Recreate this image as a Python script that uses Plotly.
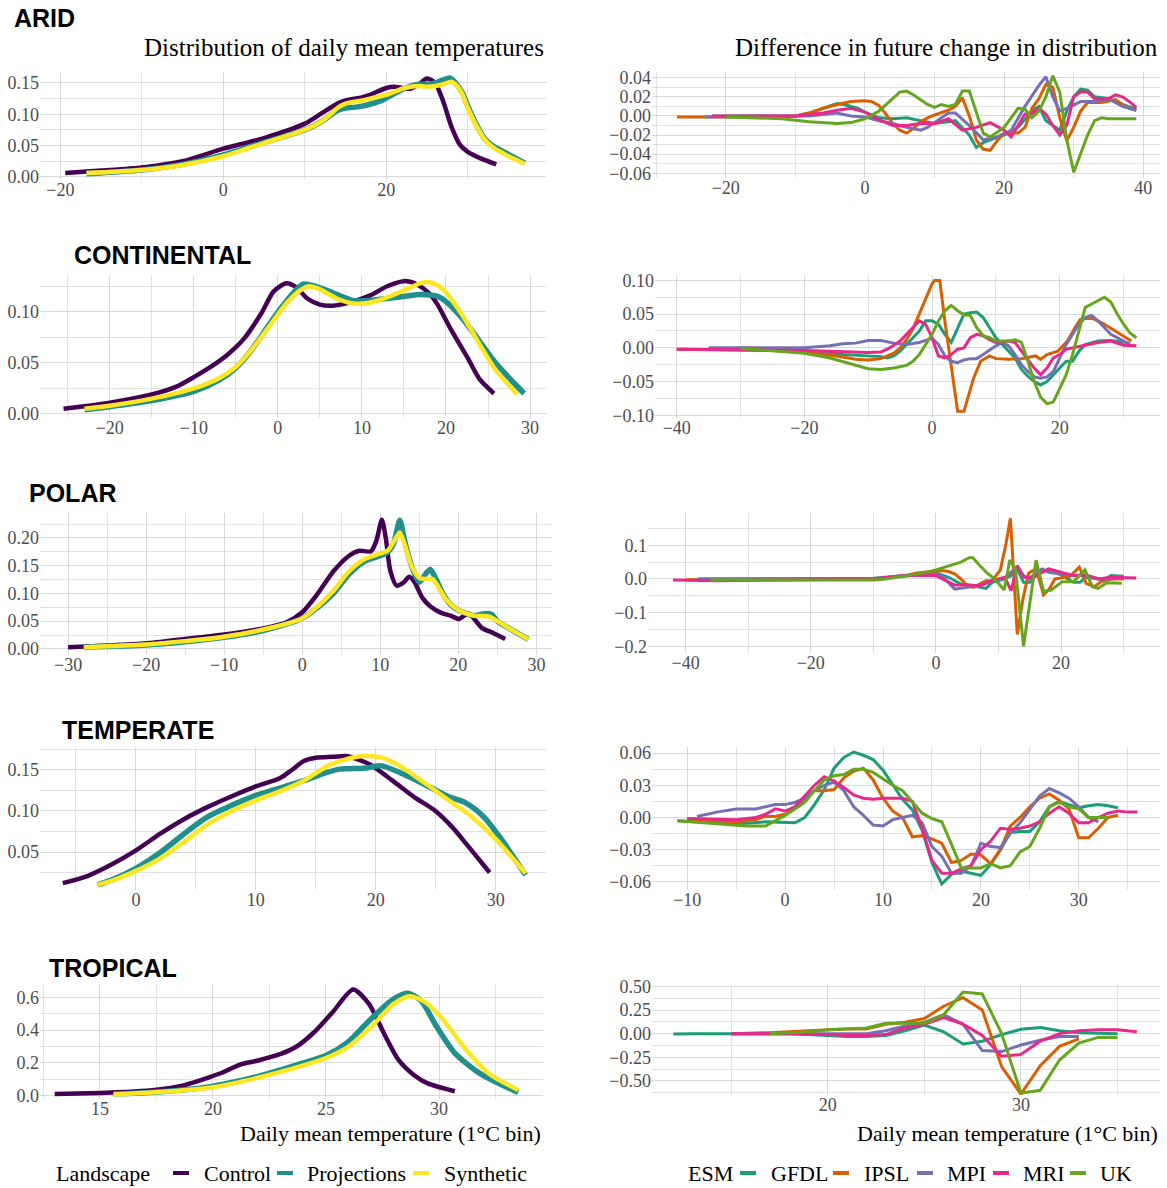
import plotly.graph_objects as go

W, H = 1167, 1188

REGIONS = ["ARID", "CONTINENTAL", "POLAR", "TEMPERATE", "TROPICAL"]
LANDSCAPES = ["Control", "Projections", "Synthetic"]
LANDSCAPE_COLORS = ["#440154", "#21908C", "#FDE725"]
ESMS = ["GFDL", "IPSL", "MPI", "MRI", "UK"]
ESM_COLORS = ["#1B9E77", "#D95F02", "#7570B3", "#E7298A", "#66A61E"]

# ---- density of daily mean temperature, (temperature, density) ----
ARID_CONTROL = [(-19.4, 0.006), (-15, 0.01), (-10, 0.015), (-5, 0.025), (0, 0.045), (5, 0.062), (10, 0.085),
                (12, 0.101), (14, 0.117), (15, 0.122), (17, 0.127), (18, 0.131), (20, 0.142), (21, 0.144),
                (22, 0.142), (23, 0.141), (24, 0.148), (25, 0.157), (26, 0.15), (27, 0.12), (28, 0.08),
                (29, 0.052), (30, 0.04), (31.5, 0.03), (33.5, 0.02)]
ARID_PROJECTIONS = [(-16.8, 0.005), (-10, 0.011), (-5, 0.02), (0, 0.035), (5, 0.055), (10, 0.075), (12, 0.088),
                    (13, 0.097), (14, 0.106), (15, 0.11), (16, 0.111), (17, 0.113), (18, 0.116), (19, 0.12),
                    (20, 0.126), (21, 0.133), (22, 0.14), (23, 0.145), (24, 0.148), (25, 0.148), (26, 0.15),
                    (27, 0.155), (27.8, 0.158), (28.5, 0.15), (29.3, 0.135), (30, 0.113), (31, 0.085),
                    (32, 0.062), (33, 0.05), (35, 0.036), (37, 0.022)]
ARID_SYNTHETIC = [(-16.8, 0.006), (-10, 0.011), (-5, 0.019), (0, 0.033), (5, 0.054), (10, 0.075), (12, 0.088),
                  (13, 0.098), (14, 0.11), (15, 0.117), (16, 0.12), (17, 0.122), (18, 0.125), (19, 0.128),
                  (20, 0.131), (21, 0.136), (22, 0.141), (23, 0.144), (24, 0.145), (25, 0.144), (26, 0.145),
                  (27, 0.148), (28, 0.152), (28.7, 0.145), (29.3, 0.133), (30, 0.11), (31, 0.083), (32, 0.061),
                  (33, 0.048), (35, 0.033), (37, 0.021)]

CONT_CONTROL = [(-25.5, 0.005), (-20, 0.011), (-15, 0.019), (-12, 0.027), (-10, 0.036), (-8, 0.046), (-6, 0.058),
                (-4, 0.074), (-2, 0.098), (-0.5, 0.12), (1, 0.128), (2.2, 0.124), (3.5, 0.113), (5, 0.107),
                (6.5, 0.106), (8.5, 0.109), (11, 0.116), (13, 0.125), (15, 0.13), (16.5, 0.127), (18, 0.118),
                (19, 0.107), (20.5, 0.084), (22.5, 0.056), (24, 0.034), (25.7, 0.02)]
CONT_PROJECTIONS = [(-23, 0.004), (-20, 0.007), (-15, 0.013), (-10, 0.022), (-7, 0.033), (-5, 0.045), (-3, 0.064),
                    (-1, 0.088), (0.5, 0.105), (2, 0.12), (3, 0.127), (4, 0.126), (5.5, 0.122), (7, 0.117),
                    (9, 0.111), (11, 0.111), (13, 0.113), (15, 0.115), (17, 0.117), (19, 0.115), (20, 0.11),
                    (22, 0.093), (24, 0.071), (26, 0.049), (28, 0.031), (29.3, 0.02)]
CONT_SYNTHETIC = [(-23, 0.005), (-20, 0.008), (-15, 0.015), (-10, 0.025), (-7, 0.035), (-5, 0.046), (-3, 0.064),
                  (-1, 0.086), (1, 0.108), (2.5, 0.12), (3.7, 0.125), (5, 0.122), (7, 0.113), (9, 0.108),
                  (11, 0.109), (13, 0.114), (15, 0.121), (17, 0.128), (18, 0.129), (19, 0.126), (20, 0.119),
                  (22, 0.096), (24, 0.068), (26, 0.042), (28.5, 0.019)]

POLAR_CONTROL = [(-30, 0.003), (-25, 0.006), (-20, 0.01), (-15, 0.018), (-10, 0.026), (-5, 0.037), (-2, 0.048),
                 (0, 0.066), (2, 0.1), (4, 0.14), (6, 0.168), (7.3, 0.177), (8.8, 0.176), (9.5, 0.195),
                 (10.2, 0.233), (10.7, 0.2), (11.3, 0.14), (12.1, 0.114), (13, 0.12), (13.7, 0.13), (14.4, 0.12),
                 (15.4, 0.092), (16.4, 0.077), (17.8, 0.065), (19, 0.06), (20.1, 0.054), (21.3, 0.064),
                 (23, 0.038), (24.4, 0.029), (26, 0.018)]
POLAR_PROJECTIONS = [(-28, 0.003), (-20, 0.007), (-15, 0.013), (-10, 0.021), (-5, 0.033), (0, 0.055), (2, 0.075),
                     (4, 0.1), (6, 0.135), (8, 0.158), (10, 0.168), (11, 0.175), (11.7, 0.19), (12.5, 0.232),
                     (13.2, 0.19), (14, 0.15), (15, 0.12), (15.8, 0.135), (16.4, 0.143), (17, 0.13), (18, 0.1),
                     (19, 0.08), (20, 0.07), (22, 0.06), (23.5, 0.064), (24.3, 0.062), (25, 0.05), (27, 0.033),
                     (29, 0.017)]
POLAR_SYNTHETIC = [(-28, 0.003), (-20, 0.008), (-15, 0.014), (-10, 0.022), (-5, 0.035), (0, 0.055), (2, 0.077),
                   (4, 0.105), (6, 0.14), (8, 0.162), (10, 0.172), (11, 0.178), (12, 0.2), (12.5, 0.21),
                   (13.2, 0.185), (14, 0.15), (15, 0.128), (16, 0.126), (16.7, 0.126), (17.5, 0.11),
                   (18.5, 0.088), (20, 0.07), (22, 0.06), (24, 0.058), (25, 0.05), (27, 0.033), (29, 0.017)]

TEMP_CONTROL = [(-6.1, 0.012), (-4, 0.021), (-2, 0.035), (0, 0.052), (2, 0.072), (4, 0.09), (6, 0.105),
                (8, 0.118), (10, 0.13), (12, 0.14), (13, 0.15), (14, 0.161), (15, 0.165), (16.5, 0.166),
                (17.5, 0.167), (18.5, 0.163), (19.6, 0.156), (21.4, 0.137), (23.3, 0.116), (24.8, 0.102),
                (26.4, 0.08), (27.6, 0.059), (29.5, 0.025)]
TEMP_PROJECTIONS = [(-3.2, 0.01), (-2, 0.016), (0, 0.03), (2, 0.049), (4, 0.072), (6, 0.093), (8, 0.107),
                    (10, 0.119), (12, 0.128), (14, 0.137), (15.5, 0.145), (17, 0.151), (19, 0.152),
                    (20.5, 0.155), (22, 0.147), (24, 0.133), (26, 0.118), (27.5, 0.11), (29, 0.093),
                    (30.5, 0.065), (32.5, 0.022)]
TEMP_SYNTHETIC = [(-3.2, 0.01), (-2, 0.015), (0, 0.027), (2, 0.042), (4, 0.062), (6, 0.084), (8, 0.1),
                  (10, 0.113), (12, 0.124), (14, 0.137), (16, 0.155), (17.5, 0.163), (19, 0.167), (20.5, 0.165),
                  (22, 0.155), (24, 0.135), (26, 0.114), (28, 0.093), (30, 0.066), (32.5, 0.024)]

TROP_CONTROL = [(13, 0.01), (15, 0.017), (16.5, 0.025), (17.5, 0.036), (18.7, 0.063), (20.4, 0.14), (21.2, 0.19),
                (22, 0.215), (23, 0.255), (23.7, 0.3), (24.5, 0.39), (25.3, 0.51), (26.2, 0.648), (26.9, 0.56),
                (27.6, 0.37), (28.2, 0.22), (28.9, 0.125), (29.5, 0.075), (30.7, 0.027)]
TROP_PROJECTIONS = [(15.6, 0.01), (17, 0.018), (18, 0.027), (19, 0.04), (20, 0.058), (21, 0.085), (22, 0.118),
                    (23, 0.158), (24, 0.2), (25, 0.245), (26, 0.33), (27, 0.47), (28, 0.59), (28.6, 0.625),
                    (29.2, 0.58), (29.9, 0.42), (30.7, 0.26), (31.8, 0.136), (33.5, 0.02)]
TROP_SYNTHETIC = [(15.6, 0.008), (18, 0.026), (20, 0.052), (22, 0.11), (24, 0.185), (25, 0.23), (26, 0.3),
                  (27, 0.42), (28, 0.56), (28.7, 0.607), (29.4, 0.57), (30.2, 0.46), (31.2, 0.28),
                  (32.2, 0.136), (33.5, 0.035)]

# ---- difference in future change in distribution per ESM, (temperature bin, difference) ----
ARID_GFDL = [(-22, 0), (-10, 0), (-8, 0.003), (-6, 0.008), (-4, 0.013), (-3, 0.012), (-1, 0.008), (0, 0.004),
             (2, -0.002), (4, -0.003), (6, -0.002), (8, -0.005), (10, -0.008), (12, -0.006), (13, -0.005),
             (15, -0.02), (16, -0.033), (17, -0.028), (18, -0.025), (20, -0.02), (22, -0.012), (24, 0.005),
             (25, 0.01), (26, -0.005), (27, -0.01), (28, -0.015), (29, 0.005), (30, 0.02), (31, 0.028),
             (32, 0.027), (33, 0.02), (35, 0.018), (37, 0.012), (39, 0.007)]
ARID_IPSL = [(-27, -0.001), (-20, -0.001), (-10, 0), (-8, 0.003), (-6, 0.008), (-4, 0.012), (-2, 0.015),
             (0, 0.016), (1, 0.015), (2, 0.011), (3, 0.002), (4, -0.008), (5, -0.015), (6, -0.018), (7, -0.013),
             (8, -0.006), (9, -0.002), (10, 0.001), (12, 0.006), (13, 0.01), (14, 0.019), (15, 0.0),
             (16, -0.025), (17, -0.035), (18, -0.036), (19, -0.026), (20, -0.018), (22, -0.018), (23, -0.012),
             (24, 0.008), (25, 0.018), (26, 0.033), (27, 0.03), (28, -0.002), (29, -0.026), (30, -0.012),
             (31, 0.005), (32, 0.014), (34, 0.014), (36, 0.017), (37, 0.012), (38, 0.008), (39, 0.006)]
ARID_MPI = [(-23, -0.001), (-8, 0), (-4, 0.003), (-2, 0), (0, -0.001), (2, -0.005), (4, -0.008), (6, -0.012),
            (8, -0.015), (9, -0.012), (11, -0.002), (12, 0.003), (13, 0.003), (15, -0.01), (17, -0.025),
            (19, -0.022), (21, -0.015), (23, 0.01), (25, 0.032), (26, 0.041), (27, 0.02), (28, 0.005),
            (29, 0.008), (31, 0.015), (33, 0.015), (35, 0.018), (37, 0.01), (39, 0.006)]
ARID_MRI = [(-22, 0), (-10, 0), (-6, 0.003), (-4, 0.006), (-2, 0.008), (0, 0.004), (2, -0.004), (4, -0.01),
            (6, -0.01), (8, -0.008), (10, -0.008), (12, -0.003), (14, -0.015), (16, -0.012), (18, -0.007),
            (20, -0.015), (21, -0.022), (22, -0.01), (23, 0.002), (24, 0.002), (25, 0.008), (26, 0.002),
            (27, -0.01), (28, -0.02), (29, -0.01), (30, 0.02), (31, 0.025), (32, 0.025), (33, 0.018),
            (35, 0.018), (36, 0.022), (37, 0.02), (38, 0.015), (39, 0.009)]
ARID_UK = [(-20, -0.001), (-12, -0.003), (-8, -0.006), (-4, -0.008), (-2, -0.007), (0, -0.003), (2, 0.005),
           (4, 0.018), (5, 0.025), (6, 0.026), (7, 0.022), (9, 0.012), (10, 0.009), (11, 0.012), (12, 0.01),
           (13, 0.012), (14, 0.026), (15, 0.026), (17, -0.018), (18, -0.022), (20, -0.012), (22, 0.008),
           (23, 0.007), (24, -0.002), (25, 0.005), (26, 0.02), (27, 0.042), (28, 0.025), (29, -0.025),
           (30, -0.059), (31, -0.04), (32, -0.02), (33, -0.005), (34, -0.002), (35, -0.003), (37, -0.003),
           (39, -0.003)]

CONT_GFDL = [(-30, 0), (-20, -0.005), (-14, -0.01), (-10, -0.012), (-8, -0.013), (-7, -0.015), (-6, -0.012),
             (-5, -0.005), (-4, 0.005), (-3, 0.015), (-2, 0.025), (-1, 0.04), (0, 0.04), (1, 0.035), (2, 0.02),
             (3, 0.008), (4, 0.03), (5, 0.05), (6, 0.052), (7, 0.053), (8, 0.045), (9, 0.03), (10, 0.015),
             (11, 0.005), (12, -0.005), (13, -0.015), (14, -0.032), (15, -0.042), (16, -0.05), (17, -0.055),
             (18, -0.05), (19, -0.04), (20, -0.03), (21, -0.02), (22, -0.02), (23, -0.005), (24, 0.005),
             (25, 0.008), (26, 0.01), (28, 0.011), (30, 0.009), (31, 0.007)]
CONT_IPSL = [(-40, -0.002), (-25, -0.004), (-20, -0.006), (-15, -0.012), (-12, -0.017), (-10, -0.018),
             (-8, -0.016), (-6, -0.008), (-5, 0.0), (-4, 0.012), (-3, 0.028), (-2, 0.05), (-1, 0.072),
             (0, 0.095), (0.4, 0.1), (1.2, 0.1), (2, 0.04), (3, -0.03), (4, -0.094), (5, -0.094), (6.5, -0.045),
             (7.6, -0.02), (9, -0.012), (10, -0.016), (12, -0.017), (14, -0.016), (15.3, -0.013), (16.2, -0.012),
             (17, -0.017), (18, -0.01), (19.7, -0.005), (21.2, 0.01), (22.4, 0.03), (23.2, 0.042), (24.1, 0.044),
             (25.3, 0.043), (27, 0.035), (29.4, 0.02), (31.2, 0.01)]
CONT_MPI = [(-35, 0), (-20, 0), (-16, 0.003), (-14, 0.006), (-12, 0.007), (-10, 0.011), (-8, 0.011), (-6, 0.007),
            (-4, 0.005), (-2, 0.008), (0, 0.014), (1, 0.005), (2, -0.012), (3, -0.02), (4, -0.022), (5, -0.018),
            (6, -0.016), (7, -0.016), (8, -0.01), (9, -0.003), (10, 0.003), (11, 0.008), (12, 0.003),
            (13, -0.01), (14, -0.025), (15, -0.035), (16, -0.043), (17, -0.045), (18, -0.043), (19, -0.035),
            (20, -0.015), (21, 0.005), (22, 0.02), (23, 0.035), (24, 0.045), (25, 0.048), (26, 0.04),
            (27, 0.03), (28, 0.02), (30, 0.01), (31, 0.005)]
CONT_MRI = [(-40, -0.002), (-20, -0.004), (-10, -0.007), (-8, -0.006), (-7, -0.002), (-5, 0.01), (-4, 0.02),
            (-3, 0.03), (-2, 0.04), (-1, 0.035), (0, 0.015), (1, -0.012), (2, -0.015), (3, -0.01), (4, -0.002),
            (5, 0.0), (6, 0.015), (7, 0.02), (8, 0.018), (9, 0.012), (10, 0.008), (12, 0.01), (13, 0.008),
            (14, -0.005), (15, -0.018), (16, -0.03), (17, -0.04), (18, -0.03), (19, -0.015), (20, -0.01),
            (21, -0.002), (22, 0.0), (24, 0.003), (26, 0.008), (28, 0.01), (30, 0.004), (32, 0.003)]
CONT_UK = [(-30, -0.001), (-25, -0.004), (-20, -0.008), (-16, -0.015), (-14, -0.02), (-12, -0.026),
           (-10, -0.031), (-8, -0.032), (-6, -0.03), (-4, -0.026), (-3, -0.02), (-2, -0.01), (-1, 0.005),
           (0, 0.02), (1, 0.04), (2, 0.055), (3, 0.063), (4, 0.055), (5, 0.049), (6, 0.048), (7, 0.03),
           (8, 0.018), (9, 0.015), (10, 0.01), (11, 0.01), (12, 0.01), (13, 0.012), (14, 0.008), (15, -0.02),
           (16, -0.05), (17, -0.073), (18, -0.083), (19, -0.08), (20, -0.06), (21, -0.04), (22, -0.01),
           (23, 0.025), (24, 0.06), (25, 0.065), (26, 0.07), (27, 0.075), (28, 0.068), (29, 0.05), (30, 0.035),
           (31, 0.022), (32, 0.015)]

POLAR_GFDL = [(-38, 0), (-10, 0), (-5, 0.008), (-2, 0.015), (0, 0.018), (2, 0.005), (4, -0.015), (6, -0.02),
              (8, -0.028), (9, -0.01), (11, 0.0), (12, 0.01), (13, 0.03), (14, -0.01), (15, -0.01), (16, 0.01),
              (17, 0.025), (18, 0.025), (20, 0.012), (22, -0.01), (23, -0.01), (24, 0.005), (26, 0.0), (27, 0.0),
              (28, 0.01), (30, 0.008)]
POLAR_IPSL = [(-40, -0.002), (-10, 0), (-8, 0.003), (-5, 0.01), (-3, 0.018), (-1, 0.022), (0, 0.025), (1, 0.025),
              (2, 0.022), (3, 0.015), (4, 0.0), (5, -0.02), (6, -0.025), (7, -0.015), (8, -0.005), (9, -0.005),
              (10.3, 0.027), (11.2, 0.105), (11.9, 0.18), (13, -0.165), (13.9, -0.06), (14.8, 0.017),
              (16, 0.03), (17.2, -0.047), (18.1, -0.03), (19, 0.0), (21.4, 0.007), (22.9, 0.035),
              (24, -0.013), (25.3, -0.023), (26.4, -0.008), (28, 0.0), (30, 0.0)]
POLAR_MPI = [(-38, 0), (-10, 0.002), (-5, 0.01), (0, 0.015), (1, 0.008), (3, -0.03), (5, -0.025), (7, -0.02),
             (9, -0.005), (11, 0.002), (12, 0.02), (13, 0.035), (14, 0.01), (15, 0.0), (16, 0.02), (17, 0.03),
             (18, 0.02), (20, 0.015), (22, 0.01), (24, 0.01), (26, 0.0), (28, 0.0), (30, 0.003)]
POLAR_MRI = [(-42, -0.003), (-35, -0.005), (-10, 0.0), (-5, 0.01), (0, 0.01), (2, -0.01), (3, -0.018),
             (5, -0.018), (7, -0.02), (9, -0.005), (11, 0.005), (12, -0.035), (13, 0.04), (14, 0.005),
             (15, 0.005), (16, 0.01), (18, 0.03), (20, 0.02), (22, 0.01), (24, 0.012), (26, 0.0), (28, 0.005),
             (30, 0.005), (32, 0.003)]
POLAR_UK = [(-36, -0.003), (-10, -0.003), (-8, 0.0), (-5, 0.008), (-2, 0.018), (0, 0.027), (2, 0.038),
            (4, 0.05), (5.3, 0.063), (5.9, 0.063), (7, 0.04), (8.2, 0.017), (9.4, 0.0), (10.9, -0.033),
            (11.8, 0.056), (12.7, 0.03), (14, -0.2), (16, 0.056), (17.2, -0.037), (18.4, -0.033),
            (20.2, -0.008), (22, -0.008), (23.8, 0.027), (25, -0.023), (25.9, -0.028), (27.3, -0.011),
            (29.7, -0.013)]

TEMP_GFDL = [(-11, -0.003), (-5, -0.006), (-2, -0.004), (0, -0.005), (1, -0.005), (2, 0.0), (3, 0.012),
             (4, 0.026), (5, 0.046), (6, 0.056), (7, 0.061), (8, 0.058), (9, 0.054), (10, 0.044), (11, 0.031),
             (12, 0.017), (13, 0.007), (14, -0.012), (15, -0.042), (16, -0.062), (17, -0.053), (18, -0.05),
             (19, -0.052), (20, -0.054), (21, -0.044), (22, -0.03), (23, -0.014), (24, -0.013), (25, -0.013),
             (26, -0.004), (27, 0.01), (28, 0.015), (29, 0.012), (30, 0.009), (31, 0.011), (32, 0.012),
             (33, 0.011), (34, 0.009)]
TEMP_IPSL = [(-10, -0.002), (-5, -0.004), (-3, -0.002), (-2, 0.001), (-1, 0.001), (0, 0.003), (1, 0.008),
             (2, 0.018), (3, 0.025), (4, 0.025), (5, 0.026), (6, 0.037), (7, 0.043), (8, 0.046), (9, 0.035),
             (10, 0.018), (11, 0.006), (12, 0.0), (13, -0.018), (14, -0.017), (15, -0.02), (16, -0.024),
             (17, -0.042), (18, -0.04), (19, -0.034), (20, -0.035), (21, -0.043), (22, -0.03), (23, -0.008),
             (24, 0.0), (25, 0.01), (26, 0.018), (27, 0.022), (28, 0.016), (29, 0.008), (30, -0.019),
             (31, -0.019), (32, -0.01), (33, 0.0), (34, 0.002)]
TEMP_MPI = [(-9, 0.001), (-7, 0.005), (-5, 0.008), (-4, 0.008), (-3, 0.008), (-2, 0.01), (-1, 0.012), (0, 0.012),
            (1, 0.014), (2, 0.018), (3, 0.025), (4, 0.03), (5, 0.033), (6, 0.025), (7, 0.01), (8, 0.002),
            (9, -0.007), (10, -0.008), (11, -0.002), (12, 0.0), (13, 0.002), (14, -0.005), (15, -0.027),
            (16, -0.036), (17, -0.052), (18, -0.052), (19, -0.045), (20, -0.024), (21, -0.027), (22, -0.028),
            (23, -0.015), (24, -0.005), (25, 0.008), (26, 0.02), (27, 0.027), (28, 0.023), (29, 0.018),
            (30, 0.01), (31, 0.0), (32, -0.004)]
TEMP_MRI = [(-10, -0.001), (-5, -0.002), (-3, 0.0), (-2, 0.003), (-1, 0.008), (0, 0.006), (1, 0.01), (2, 0.02),
            (3, 0.03), (4, 0.038), (5, 0.034), (6, 0.028), (7, 0.021), (8, 0.018), (9, 0.017), (10, 0.018),
            (11, 0.018), (12, 0.018), (13, 0.015), (14, -0.01), (15, -0.04), (16, -0.052), (17, -0.052),
            (18, -0.048), (19, -0.045), (20, -0.03), (21, -0.022), (22, -0.01), (23, -0.011), (24, -0.01),
            (25, -0.008), (26, -0.004), (27, 0.004), (28, 0.01), (29, 0.004), (30, -0.005), (31, -0.005),
            (32, 0.0), (33, 0.004), (34, 0.006), (35, 0.005), (36, 0.005)]
TEMP_UK = [(-11, -0.003), (-5, -0.007), (-4, -0.008), (-2, -0.008), (-1, -0.003), (0, 0.002), (1, 0.008),
           (2, 0.014), (3, 0.025), (4, 0.035), (5, 0.039), (6, 0.04), (7, 0.045), (8, 0.045), (9, 0.042),
           (10, 0.036), (11, 0.03), (12, 0.025), (13, 0.015), (14, 0.004), (15, -0.001), (16, -0.004),
           (17, -0.025), (18, -0.047), (19, -0.047), (20, -0.047), (21, -0.043), (22, -0.047), (23, -0.045),
           (24, -0.032), (25, -0.027), (26, -0.01), (27, 0.01), (28, 0.014), (29, 0.01), (30, 0.008), (31, 0.0),
           (32, 0.0), (33, 0.0)]

TROP_GFDL = [(12, -0.005), (13, 0.0), (15, 0.0), (17, 0.005), (18, 0.0), (19, -0.01), (20, -0.02), (21, -0.03),
             (22, -0.03), (23, -0.02), (24, 0.03), (25, 0.09), (26, 0.02), (27, -0.11), (28, -0.08), (29, -0.01),
             (30, 0.046), (31, 0.064), (32, 0.03), (33, 0.01), (35, 0.0)]
TROP_IPSL = [(15, 0.0), (17, 0.01), (19, 0.03), (20, 0.04), (21, 0.05), (22, 0.05), (23, 0.1), (24, 0.12),
             (25, 0.16), (26, 0.29), (27, 0.38), (28, 0.25), (29, -0.35), (30, -0.64), (31, -0.34), (32, -0.135),
             (33, -0.055)]
TROP_MPI = [(15, 0.0), (20, 0.0), (22, 0.0), (23, 0.03), (24, 0.08), (25, 0.12), (26, 0.2), (27, 0.1),
            (28, -0.18), (29, -0.19), (30, -0.12), (31, -0.07), (32, -0.03), (33, -0.03)]
TROP_MRI = [(15, 0.0), (18, 0.0), (20, -0.01), (21, -0.02), (22, -0.02), (23, -0.01), (24, 0.06), (25, 0.1),
            (26, 0.17), (27, 0.1), (28, -0.02), (29, -0.24), (30, -0.22), (31, -0.08), (32, 0.0), (33, 0.03),
            (34, 0.04), (35, 0.04), (36, 0.02)]
TROP_UK = [(17, 0.0), (18, 0.01), (19, 0.02), (20, 0.04), (21, 0.05), (22, 0.06), (23, 0.11), (24, 0.11),
           (25, 0.11), (26, 0.2), (27, 0.44), (28, 0.42), (29, 0.0), (30, -0.63), (31, -0.6), (32, -0.28),
           (33, -0.1), (34, -0.04), (35, -0.04)]

DENSITY = {
    "ARID": [ARID_CONTROL, ARID_PROJECTIONS, ARID_SYNTHETIC],
    "CONTINENTAL": [CONT_CONTROL, CONT_PROJECTIONS, CONT_SYNTHETIC],
    "POLAR": [POLAR_CONTROL, POLAR_PROJECTIONS, POLAR_SYNTHETIC],
    "TEMPERATE": [TEMP_CONTROL, TEMP_PROJECTIONS, TEMP_SYNTHETIC],
    "TROPICAL": [TROP_CONTROL, TROP_PROJECTIONS, TROP_SYNTHETIC],
}
DIFFERENCE = {
    "ARID": [ARID_GFDL, ARID_IPSL, ARID_MPI, ARID_MRI, ARID_UK],
    "CONTINENTAL": [CONT_GFDL, CONT_IPSL, CONT_MPI, CONT_MRI, CONT_UK],
    "POLAR": [POLAR_GFDL, POLAR_IPSL, POLAR_MPI, POLAR_MRI, POLAR_UK],
    "TEMPERATE": [TEMP_GFDL, TEMP_IPSL, TEMP_MPI, TEMP_MRI, TEMP_UK],
    "TROPICAL": [TROP_GFDL, TROP_IPSL, TROP_MPI, TROP_MRI, TROP_UK],
}

# ---- panel geometry: pixel box (left, right, top, bottom), axis ranges, breaks ----
# (box, xrange, xbreaks, xminor, yrange, ybreaks, yminor, ydecimals)
LEFT_PANELS = [
    ((40, 546, 72, 180), (-22.5, 39.6), [-20, 0, 20], 10, (-0.005, 0.1675), [0, 0.05, 0.10, 0.15], 0.025, 2),
    ((40, 546, 275, 418), (-28.3, 31.9), [-20, -10, 0, 10, 20, 30], 5, (-0.004, 0.136), [0, 0.05, 0.10], 0.025, 2),
    ((40, 552, 513, 655), (-33.6, 32.0), [-30, -20, -10, 0, 10, 20, 30], 5, (-0.011, 0.245),
     [0, 0.05, 0.10, 0.15, 0.20], 0.025, 2),
    ((40, 546, 747, 890), (-8.0, 34.2), [0, 10, 20, 30], 5, (0.0037, 0.178), [0.05, 0.10, 0.15], 0.025, 2),
    ((40, 543, 985, 1099), (12.35, 34.6), [15, 20, 25, 30], 2.5, (-0.02, 0.675), [0, 0.2, 0.4, 0.6], 0.1, 1),
]
RIGHT_PANELS = [
    ((652, 1160, 72, 178), (-30.6, 42.4), [-20, 0, 20, 40], 10, (-0.065, 0.046),
     [-0.06, -0.04, -0.02, 0, 0.02, 0.04], 0.01, 2),
    ((655, 1160, 275, 418), (-43.4, 35.7), [-40, -20, 0, 20], 10, (-0.104, 0.108),
     [-0.10, -0.05, 0, 0.05, 0.10], 0.025, 2),
    ((648, 1160, 513, 653), (-46.0, 35.8), [-40, -20, 0, 20], 10, (-0.22, 0.196), [-0.2, -0.1, 0, 0.1], 0.05, 1),
    ((652, 1160, 747, 890), (-13.6, 38.3), [-10, 0, 10, 20, 30], 5, (-0.0676, 0.0657),
     [-0.06, -0.03, 0, 0.03, 0.06], 0.015, 2),
    ((652, 1160, 985, 1095), (10.9, 37.2), [20, 30], 5, (-0.65, 0.515), [-0.5, -0.25, 0, 0.25, 0.5], 0.125, 2),
]
ROW_TITLE_POS = [(12, 18), (72, 255), (27, 493), (60, 730), (47, 968)]

# key rows: (title, title x, [(glyph x0, glyph x1, label x), ...]) in pixels
LANDSCAPE_KEY = ("Landscape", 54, [(173, 189, 202), (277, 293, 305), (413, 429, 442)])
ESM_KEY = ("ESM", 686, [(740, 756, 769), (833, 849, 862), (917, 933, 945), (993, 1009, 1021), (1070, 1086, 1098)])
KEY_Y = 1173

SERIF = "Liberation Serif"
SANS = "Liberation Sans"
TICK_COLOR = "#4d4d4d"
GRID = "#d9d9d9"
GRID_MINOR = "#e1e1e1"


def fmt(v, dec):
    s = f"{v:.{dec}f}" if dec else f"{v:g}"
    if s.startswith("-") and float(s) != 0:
        s = "\u2212" + s[1:]
    elif s.startswith("-"):
        s = s[1:]
    return s


fig = go.Figure()
layout = {}
k = 0
for r, region in enumerate(REGIONS):
    for side, spec in (("L", LEFT_PANELS[r]), ("R", RIGHT_PANELS[r])):
        k += 1
        (l, rgt, t, b), xr, xb, xm, yr, yb, ym, yd = spec
        xa = "xaxis" if k == 1 else f"xaxis{k}"
        ya = "yaxis" if k == 1 else f"yaxis{k}"
        xref = "x" if k == 1 else f"x{k}"
        yref = "y" if k == 1 else f"y{k}"
        layout[xa] = dict(
            domain=[l / W, rgt / W], range=list(xr), anchor=yref, automargin=False,
            tickmode="array", tickvals=xb, ticktext=[fmt(v, 0) for v in xb],
            showgrid=True, gridcolor=GRID, gridwidth=1.3, zeroline=False, showline=False, ticks="",
            tickfont=dict(family=SERIF, size=18, color=TICK_COLOR), ticklabelstandoff=-3,
            minor=dict(tick0=xb[0] + xm, dtick=2 * xm, showgrid=True, gridcolor=GRID_MINOR, gridwidth=1),
            fixedrange=True,
        )
        layout[ya] = dict(
            domain=[1 - b / H, 1 - t / H], range=list(yr), anchor=xref, automargin=False,
            tickmode="array", tickvals=yb, ticktext=[fmt(v, yd) for v in yb],
            showgrid=True, gridcolor=GRID, gridwidth=1.3, zeroline=False, showline=False, ticks="",
            tickfont=dict(family=SERIF, size=18, color=TICK_COLOR),
            minor=dict(tick0=yb[0] + ym, dtick=2 * ym, showgrid=True, gridcolor=GRID_MINOR, gridwidth=1),
            fixedrange=True,
        )
        if side == "L":
            widths = [4.5, 5.5, 4.5]
            for name, color, wdt, series in zip(LANDSCAPES, LANDSCAPE_COLORS, widths, DENSITY[region]):
                fig.add_trace(go.Scatter(
                    x=[p[0] for p in series], y=[p[1] for p in series], mode="lines",
                    line=dict(color=color, width=wdt, shape="spline", smoothing=0.7),
                    name=name, showlegend=False, xaxis=xref, yaxis=yref, hoverinfo="skip"))
        else:
            for name, color, series in zip(ESMS, ESM_COLORS, DIFFERENCE[region]):
                fig.add_trace(go.Scatter(
                    x=[p[0] for p in series], y=[p[1] for p in series], mode="lines",
                    line=dict(color=color, width=3),
                    name=name, showlegend=False, xaxis=xref, yaxis=yref, hoverinfo="skip"))

annotations = []
shapes = []
for region, (x0, y0) in zip(REGIONS, ROW_TITLE_POS):
    annotations.append(dict(text=f"<b>{region}</b>", x=x0 / W, y=1 - y0 / H, xref="paper", yref="paper",
                            xanchor="left", yanchor="middle", showarrow=False,
                            font=dict(family=SANS, size=25, color="black")))
for text, xr_px in (("Distribution of daily mean temperatures", 546),
                    ("Difference in future change in distribution", 1160)):
    annotations.append(dict(text=text, x=xr_px / W, y=1 - 47 / H, xref="paper", yref="paper",
                            xanchor="right", yanchor="middle", showarrow=False,
                            font=dict(family=SERIF, size=25, color="black")))
for xr_px in (543, 1160):
    annotations.append(dict(text="Daily mean temperature (1\u00b0C bin)", x=xr_px / W, y=1 - 1133 / H,
                            xref="paper", yref="paper", xanchor="right", yanchor="middle", showarrow=False,
                            font=dict(family=SERIF, size=22, color="black")))

# colour keys for the two line groups
key_font = dict(family=SERIF, size=22, color="black")
for (title, tx, items), names, colors in ((LANDSCAPE_KEY, LANDSCAPES, LANDSCAPE_COLORS),
                                          (ESM_KEY, ESMS, ESM_COLORS)):
    annotations.append(dict(text=title, x=tx / W, y=1 - KEY_Y / H, xref="paper", yref="paper",
                            xanchor="left", yanchor="middle", showarrow=False, font=key_font))
    for (g0, g1, lx), name, color in zip(items, names, colors):
        shapes.append(dict(type="line", xref="paper", yref="paper", x0=g0 / W, x1=g1 / W,
                           y0=1 - KEY_Y / H, y1=1 - KEY_Y / H, line=dict(color=color, width=4)))
        annotations.append(dict(text=name, x=lx / W, y=1 - KEY_Y / H, xref="paper", yref="paper",
                                xanchor="left", yanchor="middle", showarrow=False, font=key_font))

fig.update_layout(
    width=W, height=H, margin=dict(l=0, r=0, t=0, b=0, autoexpand=False),
    paper_bgcolor="white", plot_bgcolor="white",
    showlegend=False,
    annotations=annotations, shapes=shapes,
    **layout,
)

fig.write_html("out.html")
